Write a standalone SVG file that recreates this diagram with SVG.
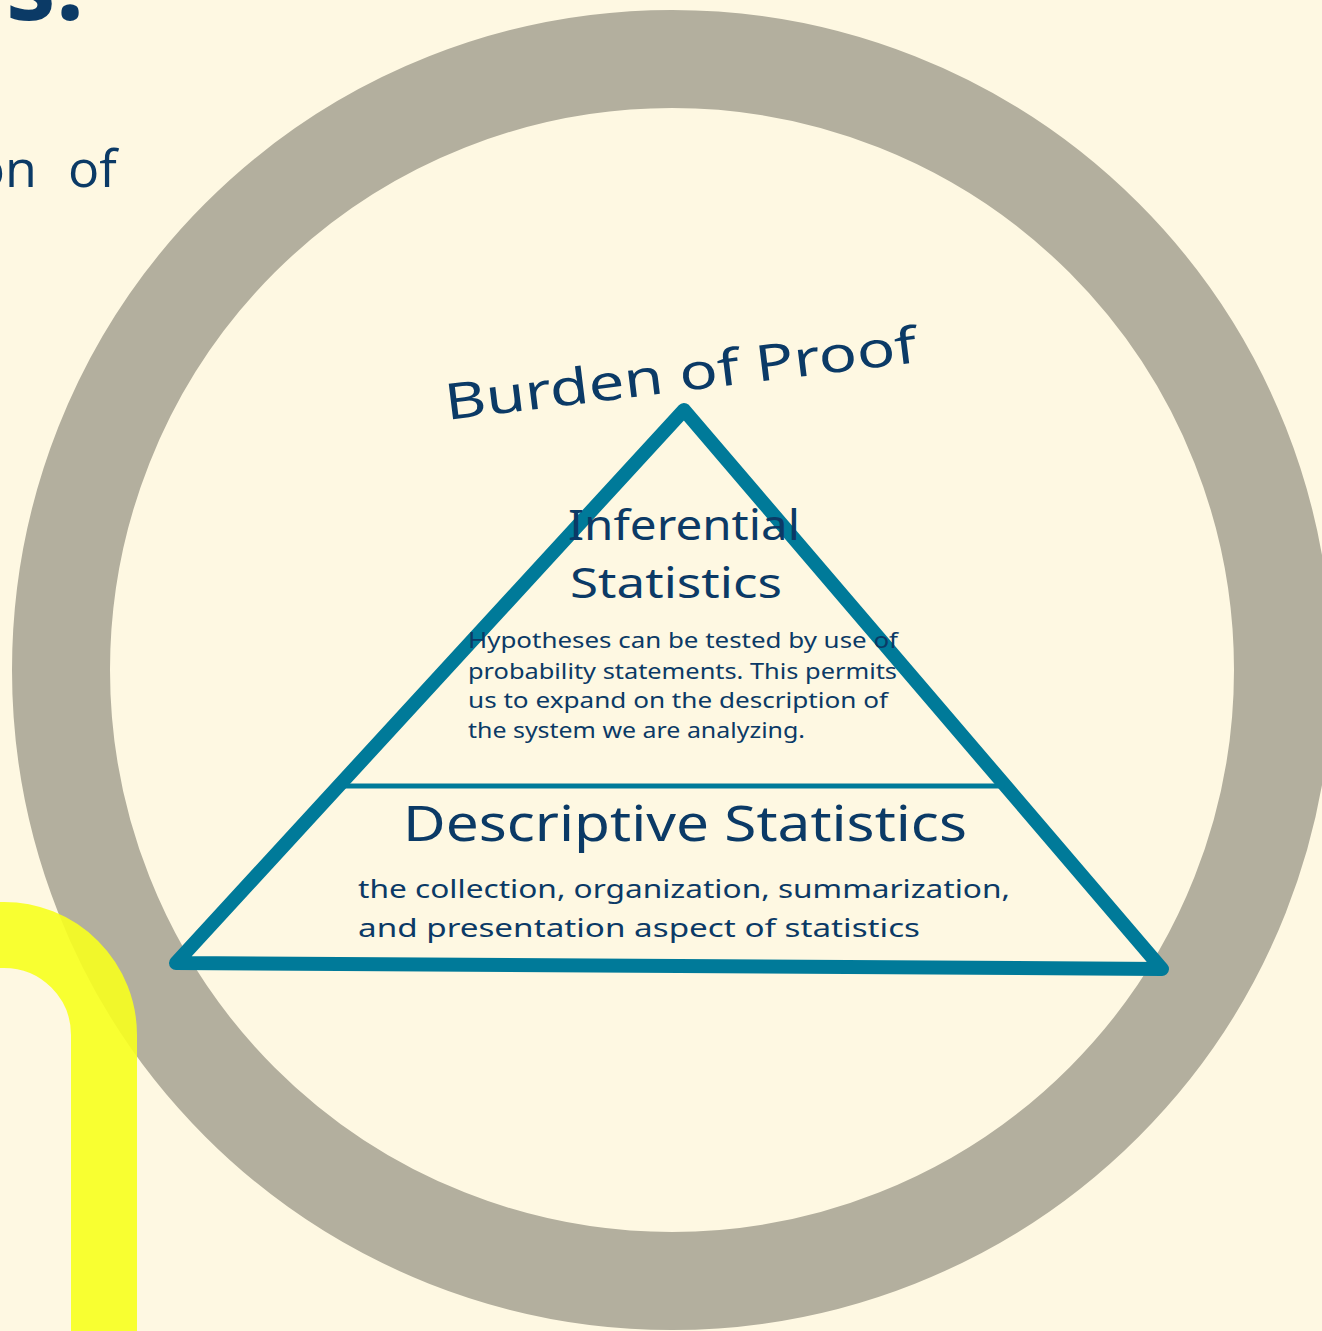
<svg xmlns="http://www.w3.org/2000/svg" width="1322" height="1331" viewBox="0 0 1322 1331">
  <style>
    .ink { fill: #0B3A66; font-family: "Open Sans", "Noto Sans", "Liberation Sans", sans-serif; }
    .hand { fill: #0B3A66; font-family: "Noto Sans", "Open Sans", "Liberation Sans", sans-serif; }
    .tri { fill: none; stroke: #007A99; stroke-linejoin: round; stroke-linecap: round; }
  </style>
  <rect width="1322" height="1331" fill="#FEF8E2"/>
  <g id="ring">
    <circle cx="672" cy="670" r="611" fill="none" stroke="#B3AF9E" stroke-width="98"/>
  </g>
  <g id="yellow-band">
    <path d="M -100 935 L 4 935 A 100 100 0 0 1 104 1035 L 104 1400" fill="none" stroke="#F7FF1E" stroke-opacity="0.9" stroke-width="66"/>
  </g>
  <g id="heading-fragments">
    <text class="hand" x="84" y="20" font-size="100" font-weight="bold" text-anchor="end">s.</text>
    <text class="ink" x="37" y="187" font-size="52" text-anchor="end">on</text>
    <text class="ink" x="68" y="187" font-size="52">of</text>
  </g>
  <g id="pyramid">
    <polygon class="tri" points="684,410 1162,969 176,963" stroke-width="14"/>
    <line class="tri" x1="343" y1="786" x2="1002" y2="786" stroke-width="5"/>
  </g>
  <g id="burden-of-proof">
    <text class="hand" transform="translate(447 420) rotate(-7)" font-size="50" textLength="475" lengthAdjust="spacingAndGlyphs">Burden of Proof</text>
  </g>
  <g id="inferential">
    <text class="hand" x="684" y="540" font-size="42" text-anchor="middle" textLength="232" lengthAdjust="spacingAndGlyphs">Inferential</text>
    <text class="hand" x="676" y="598" font-size="42" text-anchor="middle" textLength="212" lengthAdjust="spacingAndGlyphs">Statistics</text>
    <g font-size="21">
      <text class="hand" x="468" y="648" textLength="430" lengthAdjust="spacingAndGlyphs">Hypotheses can be tested by use of</text>
      <text class="hand" x="468" y="679" textLength="429" lengthAdjust="spacingAndGlyphs">probability statements. This permits</text>
      <text class="hand" x="468" y="708" textLength="420" lengthAdjust="spacingAndGlyphs">us to expand on the description of</text>
      <text class="hand" x="468" y="738" textLength="337" lengthAdjust="spacingAndGlyphs">the system we are analyzing.</text>
    </g>
  </g>
  <g id="descriptive">
    <text class="hand" x="403" y="841" font-size="50" textLength="564" lengthAdjust="spacingAndGlyphs">Descriptive Statistics</text>
    <text class="hand" x="358" y="898" font-size="26" textLength="652" lengthAdjust="spacingAndGlyphs">the collection, organization, summarization,</text>
    <text class="hand" x="358" y="937" font-size="26" textLength="562" lengthAdjust="spacingAndGlyphs">and presentation aspect of statistics</text>
  </g>
</svg>
